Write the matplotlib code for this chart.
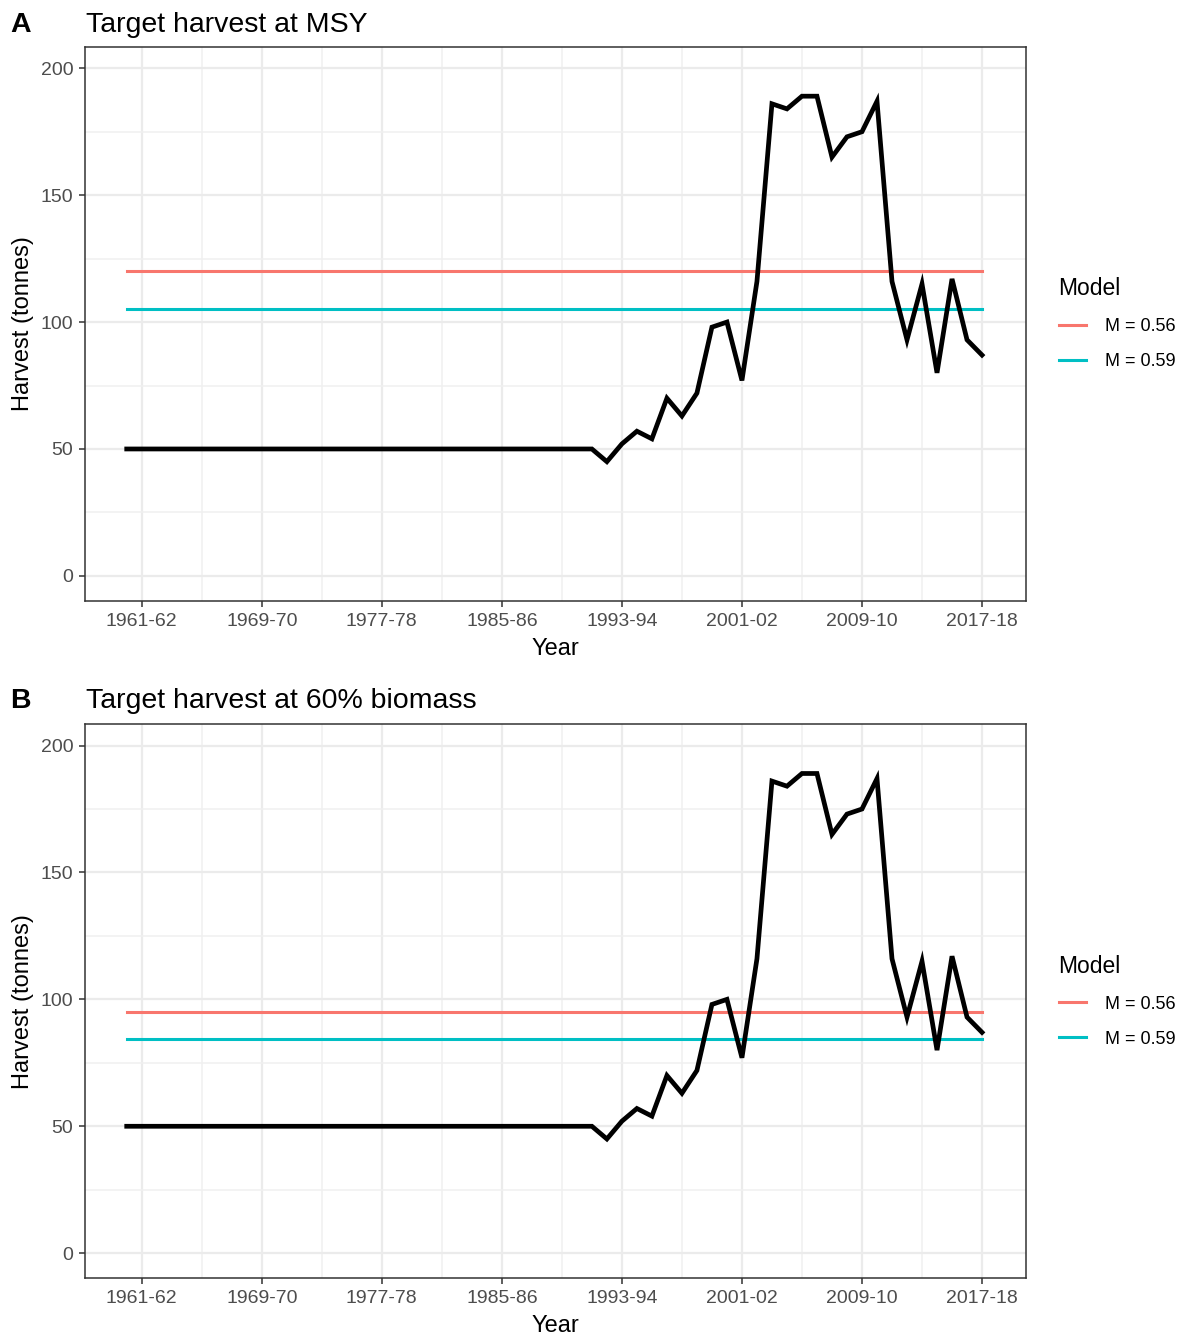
import matplotlib.pyplot as plt
import numpy as np

plt.rcParams.update({'font.family': ['Liberation Sans', 'DejaVu Sans']})

# harvest series, one value per season starting 1960-61
start_years = np.arange(1960, 2018)
harvest = [50] * 32 + [45, 52, 57, 54, 70, 63, 72, 98, 100, 77,
                       116, 186, 184, 189, 189, 165, 173, 175, 187, 116,
                       93, 115, 80, 117, 93, 87]

models = ['M = 0.56', 'M = 0.59']
model_colors = ['#F8766D', '#00BFC4']
target_msy = [120, 105]
target_b60 = [95, 84.5]

panels = [('A', 'Target harvest at MSY', target_msy),
          ('B', 'Target harvest at 60% biomass', target_b60)]

tick_years = np.arange(1961, 2018, 8)
tick_labels = ['%d-%02d' % (y, (y + 1) % 100) for y in tick_years]

W, H = 1188, 1340
fig = plt.figure(figsize=(W / 100, H / 100), dpi=100)
axes_rects = [[85 / W, 1 - 601 / H, 940.7 / W, 554.3 / H],
              [85 / W, 1 - 1278.3 / H, 940.7 / W, 554.3 / H]]
title_base = [32, 708]

for rect, ty, (tag, title, targets) in zip(axes_rects, title_base, panels):
    ax = fig.add_axes(rect)
    ax.plot(start_years, harvest, color='black', linewidth=3.4,
            solid_joinstyle='miter', zorder=3)
    for lab, col, val in zip(models, model_colors, targets):
        ax.plot([start_years[0], start_years[-1]], [val, val], color=col,
                linewidth=2.2, label=lab, zorder=2)

    ax.set_xticks(tick_years)
    ax.set_xticklabels(tick_labels)
    ax.set_xticks(np.append(tick_years[0] - 4, tick_years[:-1] + 4), minor=True)
    ax.set_yticks([0, 50, 100, 150, 200])
    ax.set_yticks([25, 75, 125, 175], minor=True)
    # limits after the ticks so the minor ticks don't widen the view
    ax.set_xlim(1957.22, 2019.91)
    ax.set_ylim(-9.9, 208.5)

    ax.grid(which='major', color='#EBEBEB', linewidth=1.6, zorder=0)
    ax.grid(which='minor', color='#F0F0F0', linewidth=1.1, zorder=0)
    ax.set_axisbelow(True)
    ax.tick_params(which='major', direction='out', length=4.5, width=1.1,
                   color='#333333', labelsize=14, labelcolor='#4D4D4D', pad=4)
    ax.tick_params(which='minor', length=0)
    for sp in ax.spines.values():
        sp.set_color('#333333')
        sp.set_linewidth(1.1)

    ax.set_xlabel('Year', fontsize=17, labelpad=6)
    ax.set_ylabel('Harvest (tonnes)', fontsize=17, labelpad=5)
    fig.text(86 / W, 1 - ty / H, title, fontsize=20.5, va='baseline', ha='left')
    fig.text(10 / W, 1 - ty / H, tag, fontsize=20.5, fontweight='bold',
             va='baseline', ha='left')

    lgd = ax.legend(title='Model', loc='center left',
                    bbox_to_anchor=(1.0176, 0.5), frameon=False, fontsize=13,
                    title_fontsize=16.5, handlelength=1.5, handletextpad=1.1,
                    labelspacing=1.0, borderpad=0.4)
    lgd._legend_box.align = 'left'
    lgd._legend_handle_box.get_children()[0].set_offset((3, 0))

plt.savefig('out.png', dpi=100)
